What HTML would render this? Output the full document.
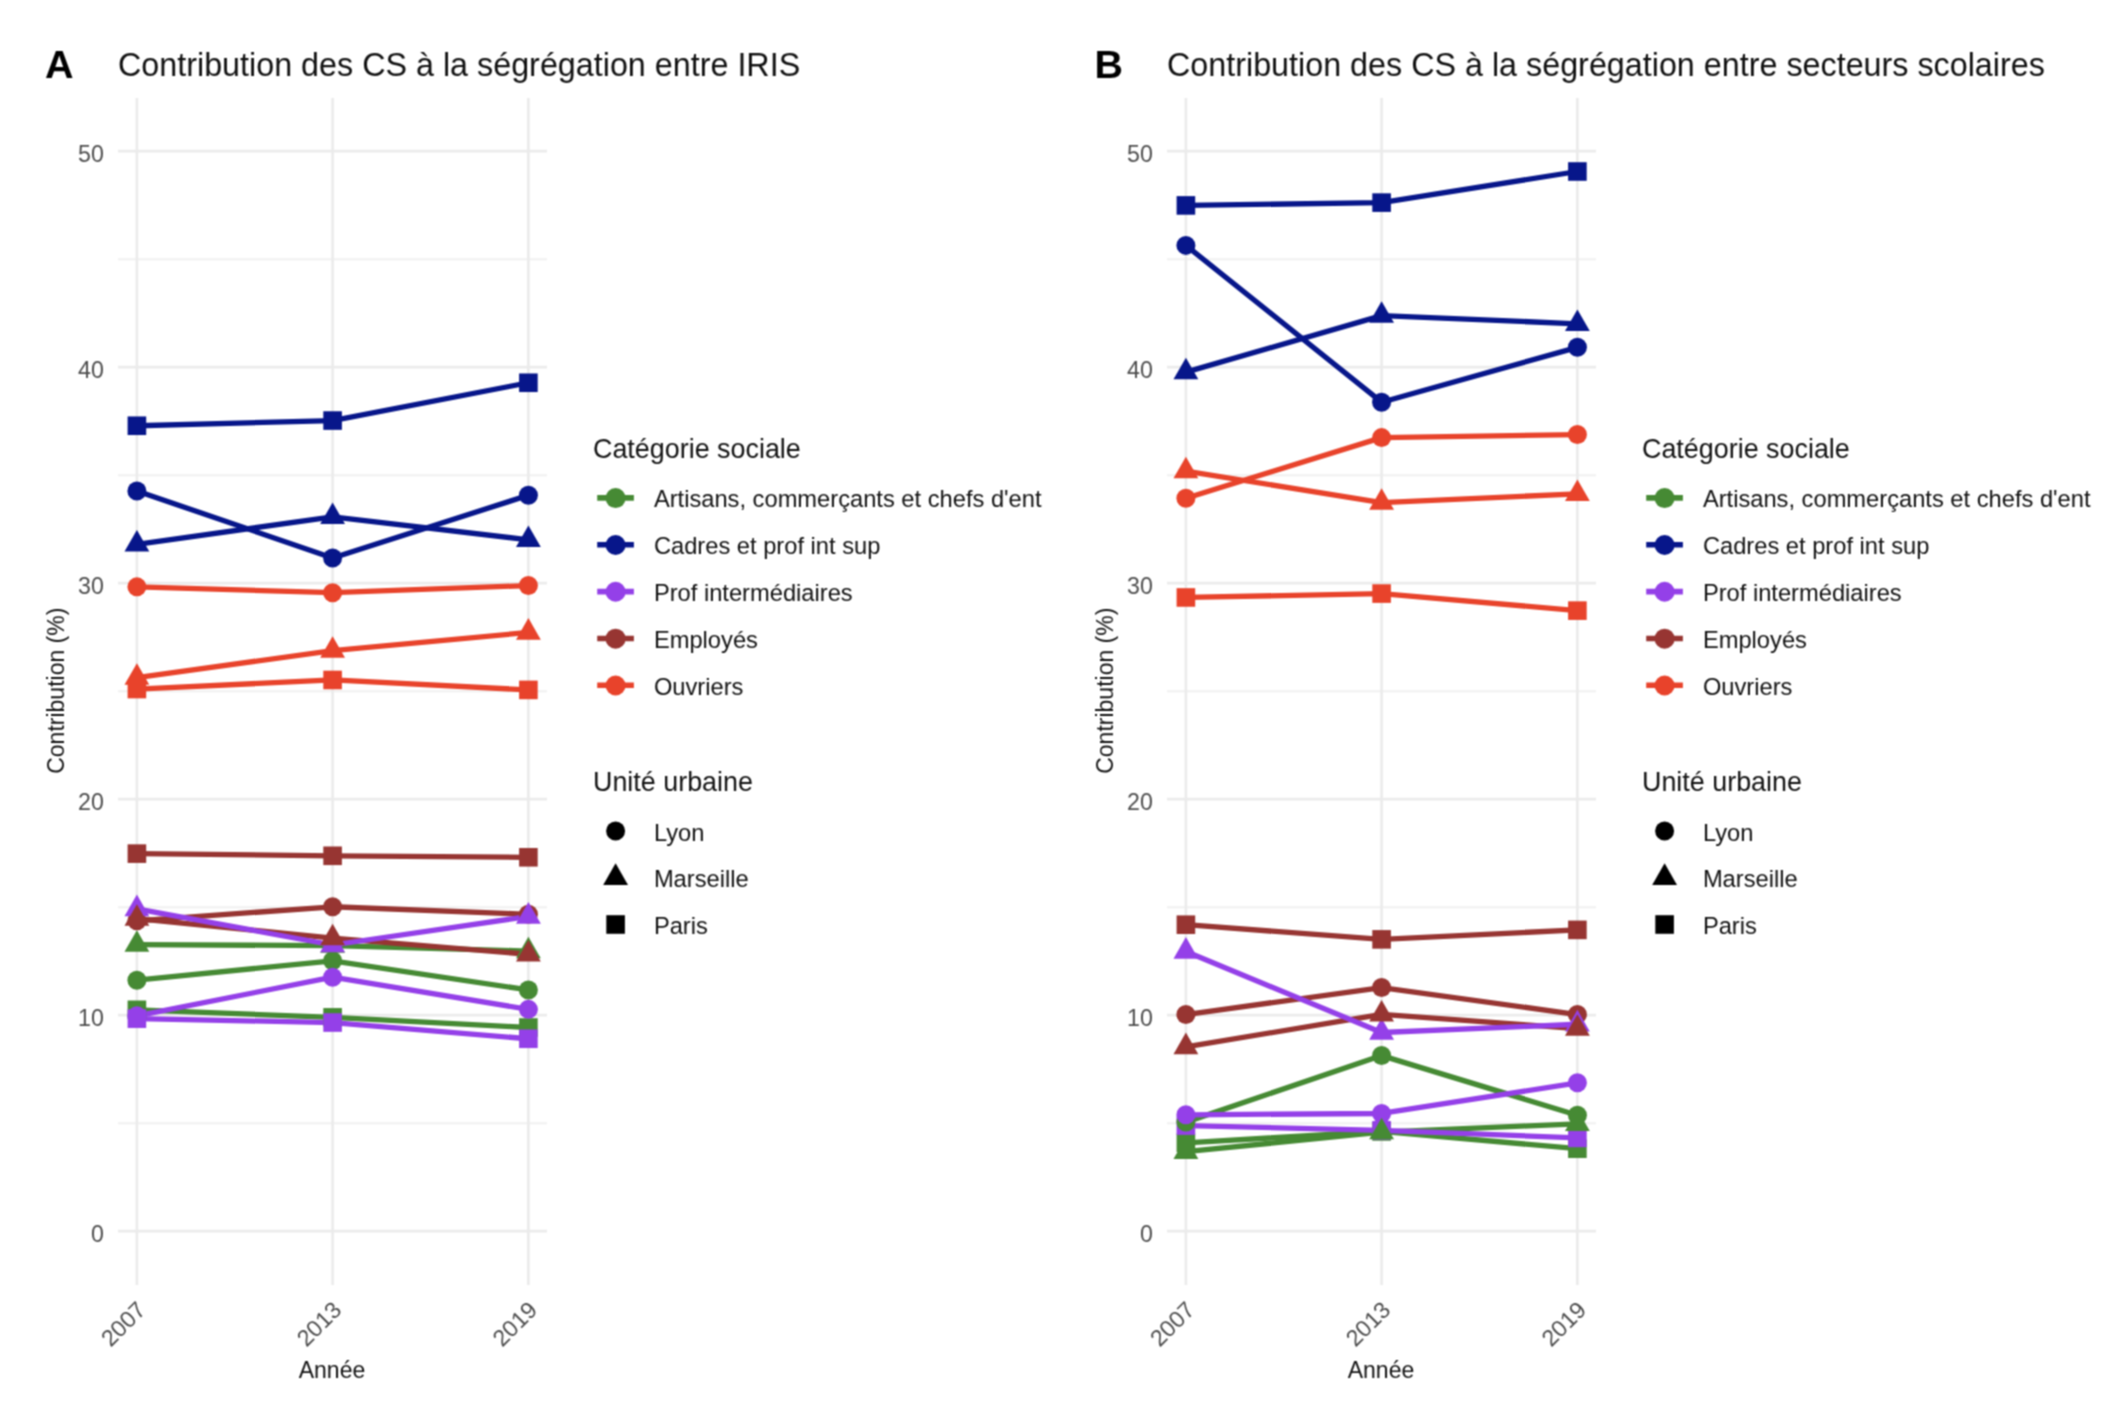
<!DOCTYPE html>
<html><head><meta charset="utf-8"><style>
html,body{margin:0;padding:0;background:#fff;}
svg{display:block;}
text{font-family:"Liberation Sans",sans-serif;}
.ax{font-size:23.2px;fill:#4d4d4d;}
.at{font-size:23.0px;fill:#111;}
.ti{font-size:32.3px;fill:#111;}
.tag{font-size:39.5px;font-weight:bold;fill:#000;}
.lt{font-size:26.9px;fill:#111;}
.lg{font-size:23.7px;fill:#111;}
</style></head><body>
<svg width="2126" height="1420" viewBox="0 0 2126 1420">
<filter id="soft" filterUnits="userSpaceOnUse" x="0" y="0" width="2126" height="1420" color-interpolation-filters="sRGB"><feConvolveMatrix order="3" kernelMatrix="1 2 1 2 4 2 1 2 1" divisor="16" edgeMode="duplicate"/></filter>
<g filter="url(#soft)">
<rect width="2126" height="1420" fill="#fff"/>
<line x1="118" x2="547" y1="1123.20" y2="1123.20" stroke="#f0f0f0" stroke-width="2"/>
<line x1="118" x2="547" y1="907.20" y2="907.20" stroke="#f0f0f0" stroke-width="2"/>
<line x1="118" x2="547" y1="691.20" y2="691.20" stroke="#f0f0f0" stroke-width="2"/>
<line x1="118" x2="547" y1="475.20" y2="475.20" stroke="#f0f0f0" stroke-width="2"/>
<line x1="118" x2="547" y1="259.20" y2="259.20" stroke="#f0f0f0" stroke-width="2"/>
<line x1="118" x2="547" y1="1231.20" y2="1231.20" stroke="#ebebeb" stroke-width="2.7"/>
<line x1="118" x2="547" y1="1015.20" y2="1015.20" stroke="#ebebeb" stroke-width="2.7"/>
<line x1="118" x2="547" y1="799.20" y2="799.20" stroke="#ebebeb" stroke-width="2.7"/>
<line x1="118" x2="547" y1="583.20" y2="583.20" stroke="#ebebeb" stroke-width="2.7"/>
<line x1="118" x2="547" y1="367.20" y2="367.20" stroke="#ebebeb" stroke-width="2.7"/>
<line x1="118" x2="547" y1="151.20" y2="151.20" stroke="#ebebeb" stroke-width="2.7"/>
<line x1="136.9" x2="136.9" y1="98" y2="1285" stroke="#ebebeb" stroke-width="2.7"/>
<line x1="332.6" x2="332.6" y1="98" y2="1285" stroke="#ebebeb" stroke-width="2.7"/>
<line x1="528.4" x2="528.4" y1="98" y2="1285" stroke="#ebebeb" stroke-width="2.7"/>
<polyline points="136.90,980.21 332.60,960.77 528.40,989.93" fill="none" stroke="#468a34" stroke-width="5.3" stroke-linejoin="round" stroke-linecap="butt"/>
<polyline points="136.90,944.57 332.60,945.65 528.40,951.05" fill="none" stroke="#468a34" stroke-width="5.3" stroke-linejoin="round" stroke-linecap="butt"/>
<polyline points="136.90,1009.80 332.60,1017.36 528.40,1027.51" fill="none" stroke="#468a34" stroke-width="5.3" stroke-linejoin="round" stroke-linecap="butt"/>
<polyline points="136.90,490.97 332.60,557.93 528.40,495.29" fill="none" stroke="#07168a" stroke-width="5.3" stroke-linejoin="round" stroke-linecap="butt"/>
<polyline points="136.90,544.32 332.60,516.89 528.40,539.78" fill="none" stroke="#07168a" stroke-width="5.3" stroke-linejoin="round" stroke-linecap="butt"/>
<polyline points="136.90,425.74 332.60,420.55 528.40,382.75" fill="none" stroke="#07168a" stroke-width="5.3" stroke-linejoin="round" stroke-linecap="butt"/>
<polyline points="136.90,920.81 332.60,906.77 528.40,914.33" fill="none" stroke="#973532" stroke-width="5.3" stroke-linejoin="round" stroke-linecap="butt"/>
<polyline points="136.90,918.65 332.60,938.09 528.40,954.29" fill="none" stroke="#973532" stroke-width="5.3" stroke-linejoin="round" stroke-linecap="butt"/>
<polyline points="136.90,853.63 332.60,855.79 528.40,857.30" fill="none" stroke="#973532" stroke-width="5.3" stroke-linejoin="round" stroke-linecap="butt"/>
<polyline points="136.90,586.87 332.60,592.70 528.40,585.58" fill="none" stroke="#e8432b" stroke-width="5.3" stroke-linejoin="round" stroke-linecap="butt"/>
<polyline points="136.90,677.59 332.60,650.59 528.40,632.45" fill="none" stroke="#e8432b" stroke-width="5.3" stroke-linejoin="round" stroke-linecap="butt"/>
<polyline points="136.90,689.04 332.60,679.97 528.40,689.90" fill="none" stroke="#e8432b" stroke-width="5.3" stroke-linejoin="round" stroke-linecap="butt"/>
<polyline points="136.90,1015.85 332.60,977.18 528.40,1009.37" fill="none" stroke="#9440e8" stroke-width="5.3" stroke-linejoin="round" stroke-linecap="butt"/>
<polyline points="136.90,908.93 332.60,945.00 528.40,916.49" fill="none" stroke="#9440e8" stroke-width="5.3" stroke-linejoin="round" stroke-linecap="butt"/>
<polyline points="136.90,1018.66 332.60,1022.54 528.40,1038.74" fill="none" stroke="#9440e8" stroke-width="5.3" stroke-linejoin="round" stroke-linecap="butt"/>
<rect x="127.60" y="1000.50" width="18.6" height="18.6" fill="#468a34"/>
<rect x="323.30" y="1008.06" width="18.6" height="18.6" fill="#468a34"/>
<rect x="519.10" y="1018.21" width="18.6" height="18.6" fill="#468a34"/>
<rect x="127.60" y="416.44" width="18.6" height="18.6" fill="#07168a"/>
<rect x="323.30" y="411.25" width="18.6" height="18.6" fill="#07168a"/>
<rect x="519.10" y="373.45" width="18.6" height="18.6" fill="#07168a"/>
<rect x="127.60" y="1009.36" width="18.6" height="18.6" fill="#9440e8"/>
<rect x="323.30" y="1013.24" width="18.6" height="18.6" fill="#9440e8"/>
<rect x="519.10" y="1029.44" width="18.6" height="18.6" fill="#9440e8"/>
<rect x="127.60" y="844.33" width="18.6" height="18.6" fill="#973532"/>
<rect x="323.30" y="846.49" width="18.6" height="18.6" fill="#973532"/>
<rect x="519.10" y="848.00" width="18.6" height="18.6" fill="#973532"/>
<rect x="127.60" y="679.74" width="18.6" height="18.6" fill="#e8432b"/>
<rect x="323.30" y="670.67" width="18.6" height="18.6" fill="#e8432b"/>
<rect x="519.10" y="680.60" width="18.6" height="18.6" fill="#e8432b"/>
<circle cx="136.90" cy="980.21" r="9.5" fill="#468a34"/>
<circle cx="332.60" cy="960.77" r="9.5" fill="#468a34"/>
<circle cx="528.40" cy="989.93" r="9.5" fill="#468a34"/>
<circle cx="136.90" cy="490.97" r="9.5" fill="#07168a"/>
<circle cx="332.60" cy="557.93" r="9.5" fill="#07168a"/>
<circle cx="528.40" cy="495.29" r="9.5" fill="#07168a"/>
<circle cx="136.90" cy="1015.85" r="9.5" fill="#9440e8"/>
<circle cx="332.60" cy="977.18" r="9.5" fill="#9440e8"/>
<circle cx="528.40" cy="1009.37" r="9.5" fill="#9440e8"/>
<circle cx="136.90" cy="920.81" r="9.5" fill="#973532"/>
<circle cx="332.60" cy="906.77" r="9.5" fill="#973532"/>
<circle cx="528.40" cy="914.33" r="9.5" fill="#973532"/>
<circle cx="136.90" cy="586.87" r="9.5" fill="#e8432b"/>
<circle cx="332.60" cy="592.70" r="9.5" fill="#e8432b"/>
<circle cx="528.40" cy="585.58" r="9.5" fill="#e8432b"/>
<polygon points="136.90,930.17 149.30,951.77 124.50,951.77" fill="#468a34"/>
<polygon points="332.60,931.25 345.00,952.85 320.20,952.85" fill="#468a34"/>
<polygon points="528.40,936.65 540.80,958.25 516.00,958.25" fill="#468a34"/>
<polygon points="136.90,529.92 149.30,551.52 124.50,551.52" fill="#07168a"/>
<polygon points="332.60,502.49 345.00,524.09 320.20,524.09" fill="#07168a"/>
<polygon points="528.40,525.38 540.80,546.98 516.00,546.98" fill="#07168a"/>
<polygon points="136.90,894.53 149.30,916.13 124.50,916.13" fill="#9440e8"/>
<polygon points="332.60,930.60 345.00,952.20 320.20,952.20" fill="#9440e8"/>
<polygon points="528.40,902.09 540.80,923.69 516.00,923.69" fill="#9440e8"/>
<polygon points="136.90,904.25 149.30,925.85 124.50,925.85" fill="#973532"/>
<polygon points="332.60,923.69 345.00,945.29 320.20,945.29" fill="#973532"/>
<polygon points="528.40,939.89 540.80,961.49 516.00,961.49" fill="#973532"/>
<polygon points="136.90,663.19 149.30,684.79 124.50,684.79" fill="#e8432b"/>
<polygon points="332.60,636.19 345.00,657.79 320.20,657.79" fill="#e8432b"/>
<polygon points="528.40,618.05 540.80,639.65 516.00,639.65" fill="#e8432b"/>
<text x="103.8" y="1242.00" text-anchor="end" class="ax">0</text>
<text x="103.8" y="1026.00" text-anchor="end" class="ax">10</text>
<text x="103.8" y="810.00" text-anchor="end" class="ax">20</text>
<text x="103.8" y="594.00" text-anchor="end" class="ax">30</text>
<text x="103.8" y="378.00" text-anchor="end" class="ax">40</text>
<text x="103.8" y="162.00" text-anchor="end" class="ax">50</text>
<text transform="translate(135.40,1299.5) rotate(-45)" text-anchor="end" class="ax" dy="0.72em">2007</text>
<text transform="translate(331.10,1299.5) rotate(-45)" text-anchor="end" class="ax" dy="0.72em">2013</text>
<text transform="translate(526.90,1299.5) rotate(-45)" text-anchor="end" class="ax" dy="0.72em">2019</text>
<text x="332.0" y="1378" text-anchor="middle" class="at">Année</text>
<text transform="translate(63.8,690.7) rotate(-90)" text-anchor="middle" class="at">Contribution (%)</text>
<text x="118.0" y="75.5" class="ti">Contribution des CS à la ségrégation entre IRIS</text>
<text x="45.0" y="77.8" class="tag">A</text>
<text x="593" y="458.0" class="lt">Catégorie sociale</text>
<line x1="597.2" x2="633.9" y1="497.90" y2="497.90" stroke="#468a34" stroke-width="5.6"/>
<circle cx="615.6" cy="498.10" r="10.0" fill="#468a34"/>
<text x="653.9" y="507.10" class="lg">Artisans, commerçants et chefs d&#39;ent</text>
<line x1="597.2" x2="633.9" y1="544.75" y2="544.75" stroke="#07168a" stroke-width="5.6"/>
<circle cx="615.6" cy="544.95" r="10.0" fill="#07168a"/>
<text x="653.9" y="553.95" class="lg">Cadres et prof int sup</text>
<line x1="597.2" x2="633.9" y1="591.60" y2="591.60" stroke="#9440e8" stroke-width="5.6"/>
<circle cx="615.6" cy="591.80" r="10.0" fill="#9440e8"/>
<text x="653.9" y="600.80" class="lg">Prof intermédiaires</text>
<line x1="597.2" x2="633.9" y1="638.45" y2="638.45" stroke="#973532" stroke-width="5.6"/>
<circle cx="615.6" cy="638.65" r="10.0" fill="#973532"/>
<text x="653.9" y="647.65" class="lg">Employés</text>
<line x1="597.2" x2="633.9" y1="685.30" y2="685.30" stroke="#e8432b" stroke-width="5.6"/>
<circle cx="615.6" cy="685.50" r="10.0" fill="#e8432b"/>
<text x="653.9" y="694.50" class="lg">Ouvriers</text>
<text x="593" y="791.4" class="lt">Unité urbaine</text>
<circle cx="615.60" cy="831.00" r="9.5" fill="#000"/>
<text x="653.9" y="840.60" class="lg">Lyon</text>
<polygon points="615.60,863.35 628.00,884.95 603.20,884.95" fill="#000"/>
<text x="653.9" y="887.35" class="lg">Marseille</text>
<rect x="606.30" y="915.20" width="18.6" height="18.6" fill="#000"/>
<text x="653.9" y="934.10" class="lg">Paris</text>
<line x1="1167.0" x2="1596.0" y1="1123.20" y2="1123.20" stroke="#f0f0f0" stroke-width="2"/>
<line x1="1167.0" x2="1596.0" y1="907.20" y2="907.20" stroke="#f0f0f0" stroke-width="2"/>
<line x1="1167.0" x2="1596.0" y1="691.20" y2="691.20" stroke="#f0f0f0" stroke-width="2"/>
<line x1="1167.0" x2="1596.0" y1="475.20" y2="475.20" stroke="#f0f0f0" stroke-width="2"/>
<line x1="1167.0" x2="1596.0" y1="259.20" y2="259.20" stroke="#f0f0f0" stroke-width="2"/>
<line x1="1167.0" x2="1596.0" y1="1231.20" y2="1231.20" stroke="#ebebeb" stroke-width="2.7"/>
<line x1="1167.0" x2="1596.0" y1="1015.20" y2="1015.20" stroke="#ebebeb" stroke-width="2.7"/>
<line x1="1167.0" x2="1596.0" y1="799.20" y2="799.20" stroke="#ebebeb" stroke-width="2.7"/>
<line x1="1167.0" x2="1596.0" y1="583.20" y2="583.20" stroke="#ebebeb" stroke-width="2.7"/>
<line x1="1167.0" x2="1596.0" y1="367.20" y2="367.20" stroke="#ebebeb" stroke-width="2.7"/>
<line x1="1167.0" x2="1596.0" y1="151.20" y2="151.20" stroke="#ebebeb" stroke-width="2.7"/>
<line x1="1185.9" x2="1185.9" y1="98" y2="1285" stroke="#ebebeb" stroke-width="2.7"/>
<line x1="1381.6" x2="1381.6" y1="98" y2="1285" stroke="#ebebeb" stroke-width="2.7"/>
<line x1="1577.4" x2="1577.4" y1="98" y2="1285" stroke="#ebebeb" stroke-width="2.7"/>
<polyline points="1185.90,1122.12 1381.60,1055.59 1577.40,1115.21" fill="none" stroke="#468a34" stroke-width="5.3" stroke-linejoin="round" stroke-linecap="butt"/>
<polyline points="1185.90,1151.71 1381.60,1132.06 1577.40,1123.85" fill="none" stroke="#468a34" stroke-width="5.3" stroke-linejoin="round" stroke-linecap="butt"/>
<polyline points="1185.90,1142.86 1381.60,1131.41 1577.40,1148.69" fill="none" stroke="#468a34" stroke-width="5.3" stroke-linejoin="round" stroke-linecap="butt"/>
<polyline points="1185.90,245.38 1381.60,402.19 1577.40,347.33" fill="none" stroke="#07168a" stroke-width="5.3" stroke-linejoin="round" stroke-linecap="butt"/>
<polyline points="1185.90,372.17 1381.60,315.58 1577.40,323.78" fill="none" stroke="#07168a" stroke-width="5.3" stroke-linejoin="round" stroke-linecap="butt"/>
<polyline points="1185.90,205.42 1381.60,202.61 1577.40,171.50" fill="none" stroke="#07168a" stroke-width="5.3" stroke-linejoin="round" stroke-linecap="butt"/>
<polyline points="1185.90,1014.55 1381.60,987.55 1577.40,1014.55" fill="none" stroke="#973532" stroke-width="5.3" stroke-linejoin="round" stroke-linecap="butt"/>
<polyline points="1185.90,1046.95 1381.60,1014.34 1577.40,1028.59" fill="none" stroke="#973532" stroke-width="5.3" stroke-linejoin="round" stroke-linecap="butt"/>
<polyline points="1185.90,924.70 1381.60,939.38 1577.40,929.88" fill="none" stroke="#973532" stroke-width="5.3" stroke-linejoin="round" stroke-linecap="butt"/>
<polyline points="1185.90,498.31 1381.60,437.62 1577.40,434.59" fill="none" stroke="#e8432b" stroke-width="5.3" stroke-linejoin="round" stroke-linecap="butt"/>
<polyline points="1185.90,471.10 1381.60,502.63 1577.40,493.78" fill="none" stroke="#e8432b" stroke-width="5.3" stroke-linejoin="round" stroke-linecap="butt"/>
<polyline points="1185.90,597.46 1381.60,593.57 1577.40,610.63" fill="none" stroke="#e8432b" stroke-width="5.3" stroke-linejoin="round" stroke-linecap="butt"/>
<polyline points="1185.90,1114.78 1381.60,1113.48 1577.40,1082.81" fill="none" stroke="#9440e8" stroke-width="5.3" stroke-linejoin="round" stroke-linecap="butt"/>
<polyline points="1185.90,951.48 1381.60,1032.48 1577.40,1024.27" fill="none" stroke="#9440e8" stroke-width="5.3" stroke-linejoin="round" stroke-linecap="butt"/>
<polyline points="1185.90,1125.58 1381.60,1130.33 1577.40,1137.89" fill="none" stroke="#9440e8" stroke-width="5.3" stroke-linejoin="round" stroke-linecap="butt"/>
<rect x="1176.60" y="1133.56" width="18.6" height="18.6" fill="#468a34"/>
<rect x="1372.30" y="1122.11" width="18.6" height="18.6" fill="#468a34"/>
<rect x="1568.10" y="1139.39" width="18.6" height="18.6" fill="#468a34"/>
<rect x="1176.60" y="196.12" width="18.6" height="18.6" fill="#07168a"/>
<rect x="1372.30" y="193.31" width="18.6" height="18.6" fill="#07168a"/>
<rect x="1568.10" y="162.20" width="18.6" height="18.6" fill="#07168a"/>
<rect x="1176.60" y="1116.28" width="18.6" height="18.6" fill="#9440e8"/>
<rect x="1372.30" y="1121.03" width="18.6" height="18.6" fill="#9440e8"/>
<rect x="1568.10" y="1128.59" width="18.6" height="18.6" fill="#9440e8"/>
<rect x="1176.60" y="915.40" width="18.6" height="18.6" fill="#973532"/>
<rect x="1372.30" y="930.08" width="18.6" height="18.6" fill="#973532"/>
<rect x="1568.10" y="920.58" width="18.6" height="18.6" fill="#973532"/>
<rect x="1176.60" y="588.16" width="18.6" height="18.6" fill="#e8432b"/>
<rect x="1372.30" y="584.27" width="18.6" height="18.6" fill="#e8432b"/>
<rect x="1568.10" y="601.33" width="18.6" height="18.6" fill="#e8432b"/>
<circle cx="1185.90" cy="1122.12" r="9.5" fill="#468a34"/>
<circle cx="1381.60" cy="1055.59" r="9.5" fill="#468a34"/>
<circle cx="1577.40" cy="1115.21" r="9.5" fill="#468a34"/>
<circle cx="1185.90" cy="245.38" r="9.5" fill="#07168a"/>
<circle cx="1381.60" cy="402.19" r="9.5" fill="#07168a"/>
<circle cx="1577.40" cy="347.33" r="9.5" fill="#07168a"/>
<circle cx="1185.90" cy="1114.78" r="9.5" fill="#9440e8"/>
<circle cx="1381.60" cy="1113.48" r="9.5" fill="#9440e8"/>
<circle cx="1577.40" cy="1082.81" r="9.5" fill="#9440e8"/>
<circle cx="1185.90" cy="1014.55" r="9.5" fill="#973532"/>
<circle cx="1381.60" cy="987.55" r="9.5" fill="#973532"/>
<circle cx="1577.40" cy="1014.55" r="9.5" fill="#973532"/>
<circle cx="1185.90" cy="498.31" r="9.5" fill="#e8432b"/>
<circle cx="1381.60" cy="437.62" r="9.5" fill="#e8432b"/>
<circle cx="1577.40" cy="434.59" r="9.5" fill="#e8432b"/>
<polygon points="1185.90,1137.31 1198.30,1158.91 1173.50,1158.91" fill="#468a34"/>
<polygon points="1381.60,1117.66 1394.00,1139.26 1369.20,1139.26" fill="#468a34"/>
<polygon points="1577.40,1109.45 1589.80,1131.05 1565.00,1131.05" fill="#468a34"/>
<polygon points="1185.90,357.77 1198.30,379.37 1173.50,379.37" fill="#07168a"/>
<polygon points="1381.60,301.18 1394.00,322.78 1369.20,322.78" fill="#07168a"/>
<polygon points="1577.40,309.38 1589.80,330.98 1565.00,330.98" fill="#07168a"/>
<polygon points="1185.90,937.08 1198.30,958.68 1173.50,958.68" fill="#9440e8"/>
<polygon points="1381.60,1018.08 1394.00,1039.68 1369.20,1039.68" fill="#9440e8"/>
<polygon points="1577.40,1009.87 1589.80,1031.47 1565.00,1031.47" fill="#9440e8"/>
<polygon points="1185.90,1032.55 1198.30,1054.15 1173.50,1054.15" fill="#973532"/>
<polygon points="1381.60,999.94 1394.00,1021.54 1369.20,1021.54" fill="#973532"/>
<polygon points="1577.40,1014.19 1589.80,1035.79 1565.00,1035.79" fill="#973532"/>
<polygon points="1185.90,456.70 1198.30,478.30 1173.50,478.30" fill="#e8432b"/>
<polygon points="1381.60,488.23 1394.00,509.83 1369.20,509.83" fill="#e8432b"/>
<polygon points="1577.40,479.38 1589.80,500.98 1565.00,500.98" fill="#e8432b"/>
<text x="1152.8" y="1242.00" text-anchor="end" class="ax">0</text>
<text x="1152.8" y="1026.00" text-anchor="end" class="ax">10</text>
<text x="1152.8" y="810.00" text-anchor="end" class="ax">20</text>
<text x="1152.8" y="594.00" text-anchor="end" class="ax">30</text>
<text x="1152.8" y="378.00" text-anchor="end" class="ax">40</text>
<text x="1152.8" y="162.00" text-anchor="end" class="ax">50</text>
<text transform="translate(1184.40,1299.5) rotate(-45)" text-anchor="end" class="ax" dy="0.72em">2007</text>
<text transform="translate(1380.10,1299.5) rotate(-45)" text-anchor="end" class="ax" dy="0.72em">2013</text>
<text transform="translate(1575.90,1299.5) rotate(-45)" text-anchor="end" class="ax" dy="0.72em">2019</text>
<text x="1381.0" y="1378" text-anchor="middle" class="at">Année</text>
<text transform="translate(1112.8,690.7) rotate(-90)" text-anchor="middle" class="at">Contribution (%)</text>
<text x="1167.0" y="75.5" class="ti">Contribution des CS à la ségrégation entre secteurs scolaires</text>
<text x="1094.5" y="77.8" class="tag">B</text>
<text x="1642.0" y="458.0" class="lt">Catégorie sociale</text>
<line x1="1646.2" x2="1682.9" y1="497.90" y2="497.90" stroke="#468a34" stroke-width="5.6"/>
<circle cx="1664.6" cy="498.10" r="10.0" fill="#468a34"/>
<text x="1702.9" y="507.10" class="lg">Artisans, commerçants et chefs d&#39;ent</text>
<line x1="1646.2" x2="1682.9" y1="544.75" y2="544.75" stroke="#07168a" stroke-width="5.6"/>
<circle cx="1664.6" cy="544.95" r="10.0" fill="#07168a"/>
<text x="1702.9" y="553.95" class="lg">Cadres et prof int sup</text>
<line x1="1646.2" x2="1682.9" y1="591.60" y2="591.60" stroke="#9440e8" stroke-width="5.6"/>
<circle cx="1664.6" cy="591.80" r="10.0" fill="#9440e8"/>
<text x="1702.9" y="600.80" class="lg">Prof intermédiaires</text>
<line x1="1646.2" x2="1682.9" y1="638.45" y2="638.45" stroke="#973532" stroke-width="5.6"/>
<circle cx="1664.6" cy="638.65" r="10.0" fill="#973532"/>
<text x="1702.9" y="647.65" class="lg">Employés</text>
<line x1="1646.2" x2="1682.9" y1="685.30" y2="685.30" stroke="#e8432b" stroke-width="5.6"/>
<circle cx="1664.6" cy="685.50" r="10.0" fill="#e8432b"/>
<text x="1702.9" y="694.50" class="lg">Ouvriers</text>
<text x="1642.0" y="791.4" class="lt">Unité urbaine</text>
<circle cx="1664.60" cy="831.00" r="9.5" fill="#000"/>
<text x="1702.9" y="840.60" class="lg">Lyon</text>
<polygon points="1664.60,863.35 1677.00,884.95 1652.20,884.95" fill="#000"/>
<text x="1702.9" y="887.35" class="lg">Marseille</text>
<rect x="1655.30" y="915.20" width="18.6" height="18.6" fill="#000"/>
<text x="1702.9" y="934.10" class="lg">Paris</text>
</g>
</svg>
</body></html>
